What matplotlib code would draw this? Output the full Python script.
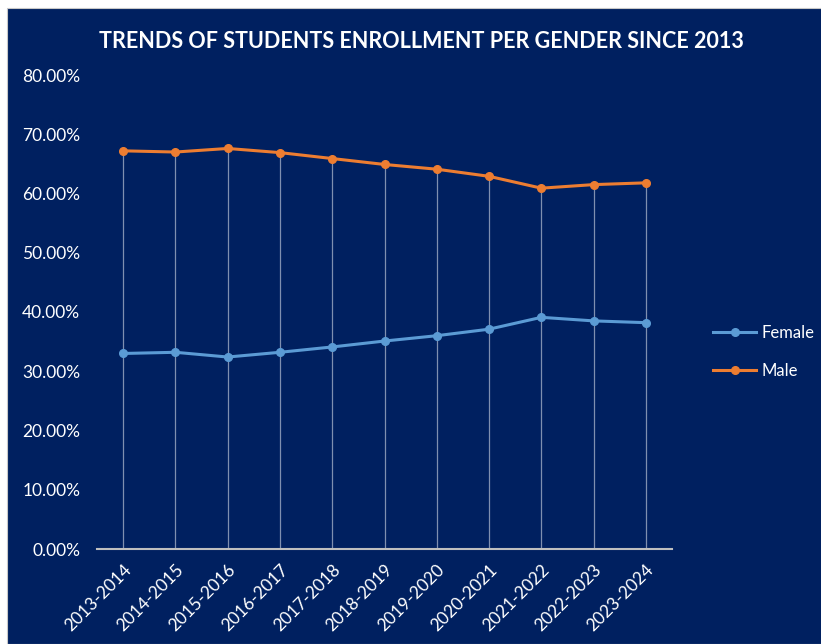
import matplotlib
matplotlib.use("Agg")
import matplotlib.pyplot as plt
from matplotlib.patches import Rectangle
from matplotlib.ticker import FuncFormatter

years = ["2013-2014", "2014-2015", "2015-2016", "2016-2017", "2017-2018", "2018-2019",
         "2019-2020", "2020-2021", "2021-2022", "2022-2023", "2023-2024"]
female = [0.330, 0.332, 0.324, 0.332, 0.341, 0.351, 0.360, 0.371, 0.391, 0.385, 0.382]
male = [0.672, 0.670, 0.676, 0.669, 0.659, 0.649, 0.641, 0.629, 0.609, 0.615, 0.618]

NAVY = "#002060"
BLUE = "#5B9BD5"
ORANGE = "#ED7D31"

plt.rcParams['font.family'] = ['Lato', 'DejaVu Sans']

fig = plt.figure(figsize=(8.21, 6.44), dpi=100)
fig.patch.set_facecolor("white")
# navy chart area with small white border at top/left
bg = Rectangle((7/821, 0), 1, 1 - 8/644, transform=fig.transFigure,
               facecolor=NAVY, edgecolor="#c8c8c8", linewidth=0.8, zorder=-10)
fig.patches.append(bg)

ax = fig.add_axes([97/821, 95/644, (672-97)/821, (549-75)/644])
ax.set_facecolor(NAVY)
ax.patch.set_alpha(0)

x = list(range(len(years)))
# drop lines
ax.vlines(x, 0, male, colors="#7f8fb0", linewidth=0.9, zorder=1)

ax.plot(x, female, color=BLUE, linewidth=2.2, marker="o", markersize=5.5, label="Female", zorder=3)
ax.plot(x, male, color=ORANGE, linewidth=2.2, marker="o", markersize=5.5, label="Male", zorder=3)

ax.set_xlim(-0.5, len(years) - 0.5)
ax.set_ylim(0, 0.8)
ax.set_yticks([i / 10 for i in range(9)])
ax.yaxis.set_major_formatter(FuncFormatter(lambda v, p: f"{v*100:.2f}%"))

for s in ["top", "right", "left"]:
    ax.spines[s].set_visible(False)
ax.spines["bottom"].set_color("#bfbfbf")
ax.spines["bottom"].set_linewidth(1.5)

ax.set_xticks(x)
ax.set_xticklabels(years, rotation=45, ha="right", rotation_mode="anchor")
ax.tick_params(axis="x", length=0, colors="white", labelsize=12.5, pad=9)
ax.tick_params(axis="y", length=0, colors="white", labelsize=12.5, pad=12)

fig.text(421/821, 1 - 42/644, "TRENDS OF STUDENTS ENROLLMENT PER GENDER SINCE 2013",
         ha="center", va="center", color="white", fontsize=15.5, fontweight="bold")

leg = ax.legend(loc="center left", bbox_to_anchor=(698/821, 1 - 352/644), bbox_transform=fig.transFigure,
                frameon=False, fontsize=12, handlelength=2.6, labelspacing=1.35, handletextpad=0.3)
for t in leg.get_texts():
    t.set_color("white")

fig.savefig("out.png", dpi=100, facecolor=fig.get_facecolor())
